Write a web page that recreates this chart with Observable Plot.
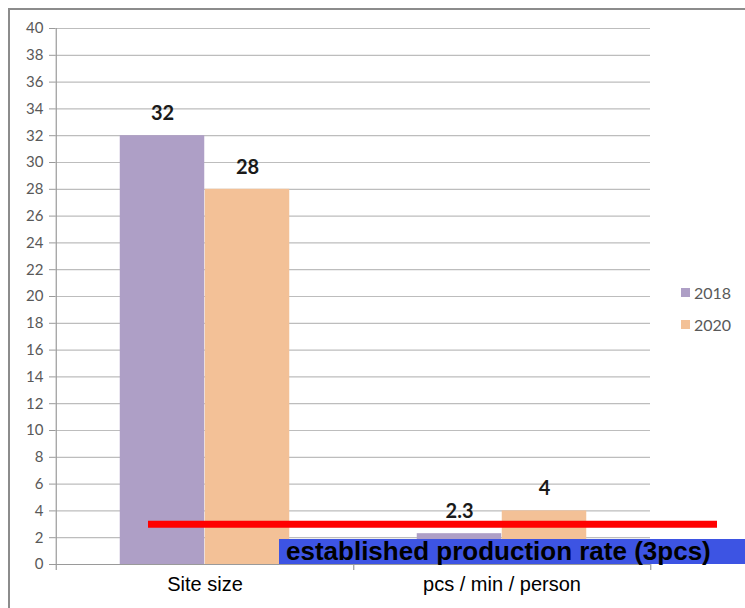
<!DOCTYPE html>
<html>
<head>
<meta charset="utf-8">
<script src="https://cdn.jsdelivr.net/npm/d3@7"></script>
<script src="https://cdn.jsdelivr.net/npm/@observablehq/plot@0.6"></script>
<style>
  html, body { margin: 0; padding: 0; background: #fff; }
  #wrap { position: relative; width: 745px; height: 608px; overflow: hidden; }
  #border { position: absolute; left: 8px; top: 8px; width: 760px; height: 640px; border: 2px solid #8c8c8c; box-sizing: border-box; }
  #chart { position: absolute; left: 0; top: 0; }
  .legend { position: absolute; left: 681px; font-family: Lato, sans-serif; font-size: 16px; color: #595959; display: flex; align-items: center; }
  .legend span.sw { display: inline-block; width: 9px; height: 9px; margin-right: 4px; }
  #note { position: absolute; left: 279px; top: 539px; width: 466px; height: 25px; background: #3d54e3;
          font-family: "Liberation Sans", Arial, sans-serif; font-weight: bold; font-size: 26px; line-height: 24px;
          color: #000; padding-left: 7px; box-sizing: border-box; white-space: nowrap; }
</style>
</head>
<body>
<div id="wrap">
  <div id="border"></div>
  <div id="chart"></div>
  <div id="legend"></div>
  <div id="note"></div>
</div>
<script>
const categories = ["Site size", "pcs / min / person"];
const years = ["2018", "2020"];
const values2018 = [32, 2.3];
const values2020 = [28, 4];
const yTicks = [0, 2, 4, 6, 8, 10, 12, 14, 16, 18, 20, 22, 24, 26, 28, 30, 32, 34, 36, 38, 40];
const targetRate = 3;
const annotation = "established production rate (3pcs)";
const colors = ["#ae9fc6", "#f3c197"];

const data = categories.flatMap((c, i) => [
  {cat: c, year: years[0], value: values2018[i]},
  {cat: c, year: years[1], value: values2020[i]}
]);

const W = 745, H = 608, mL = 55, mR = 95, mT = 28, mB = 44;
const band = (W - mL - mR) / categories.length;
const barW = 85;
const inset = (band - barW) / 2;

const barsFor = (yr, dx) => [
  Plot.barY(data.filter(d => d.year === yr), {x: "cat", y: "value", fill: "year", insetLeft: inset, insetRight: inset, dx}),
  Plot.text(data.filter(d => d.year === yr), {x: "cat", y: "value", text: d => String(d.value), dx, dy: -22,
    fontSize: 20, fontWeight: "bold", fill: "#1a1a1a", fontFamily: "Lato, sans-serif"})
];

const chart = Plot.plot({
  width: W, height: H,
  marginLeft: mL, marginRight: mR, marginTop: mT, marginBottom: mB,
  x: {domain: categories, padding: 0, label: null},
  y: {domain: [0, 40], label: null},
  color: {domain: years, range: colors},
  style: {background: "transparent", overflow: "visible"},
  marks: [
    Plot.gridY(yTicks, {stroke: "#bdbdbd", strokeOpacity: 1, strokeWidth: 1.2}),
    Plot.axisY(yTicks, {tickSize: 6, tickPadding: 6, fontSize: 15, color: "#595959", stroke: "#9a9a9a", fontFamily: "Lato, sans-serif", tickFormat: d => String(d), label: null}),
    ...barsFor(years[0], -barW / 2),
    ...barsFor(years[1], barW / 2),
    Plot.ruleY([0], {stroke: "#9a9a9a", strokeWidth: 1.2}),
    Plot.ruleX([categories[0]], {dx: -band / 2, y1: -0.45, y2: 40, stroke: "#9a9a9a", strokeWidth: 1.2}),
    Plot.ruleX(categories, {dx: band / 2, y1: -0.45, y2: 0, stroke: "#9a9a9a", strokeWidth: 1.2}),
    Plot.ruleY([targetRate], {stroke: "#ff0000", strokeWidth: 7, insetLeft: 93, insetRight: -67}),
    Plot.axisX({tickSize: 0, tickPadding: 12, fontSize: 20, color: "#000", fontFamily: "Liberation Sans, Arial, sans-serif", label: null})
  ]
});
document.getElementById("chart").appendChild(chart);

const leg = document.getElementById("legend");
years.forEach((yr, i) => {
  const d = document.createElement("div");
  d.className = "legend";
  d.style.top = (283 + i * 32) + "px";
  d.innerHTML = `<span class="sw" style="background:${colors[i]}"></span>${yr}`;
  leg.appendChild(d);
});
document.getElementById("note").textContent = annotation;
</script>
</body>
</html>
